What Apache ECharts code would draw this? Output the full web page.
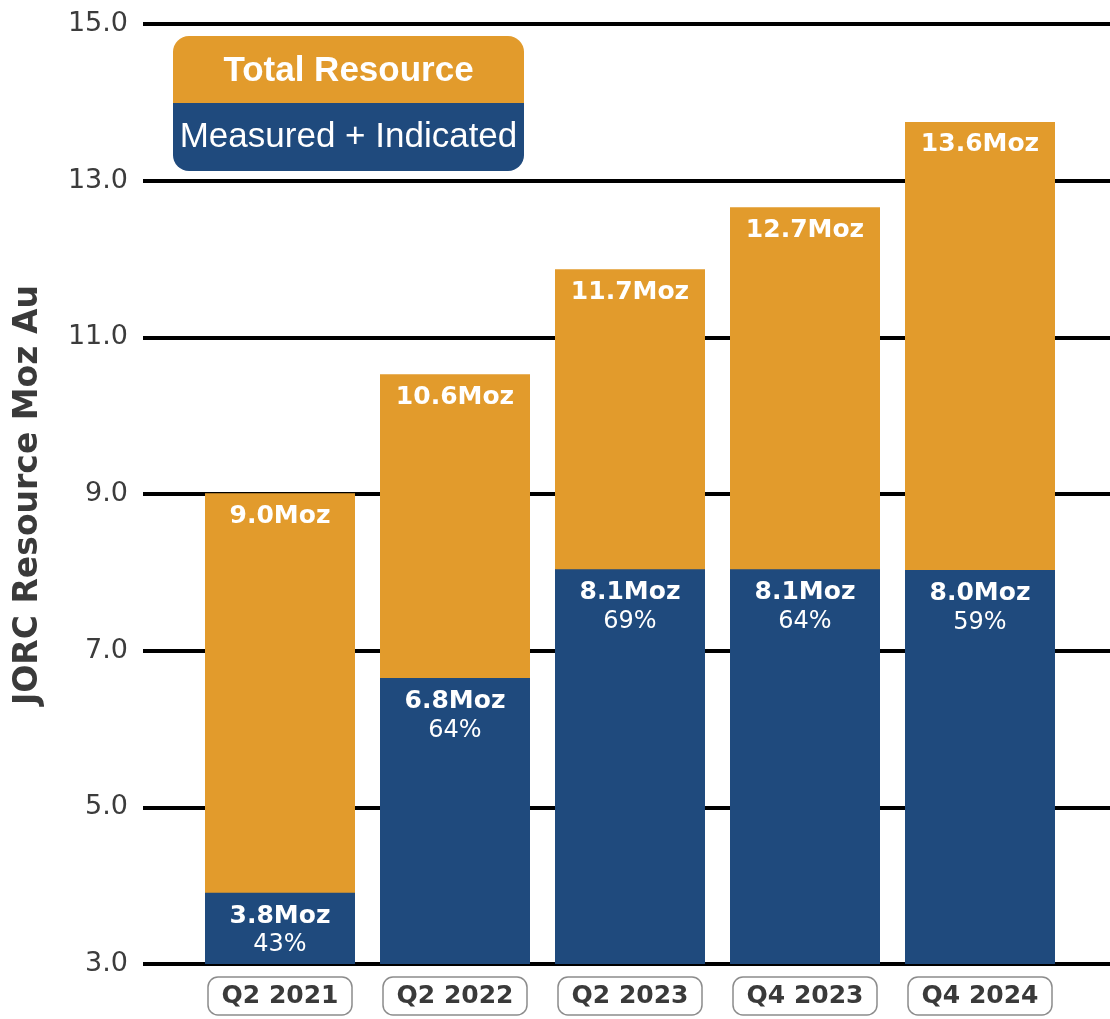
<!DOCTYPE html>
<html>
<head>
<meta charset="utf-8">
<script src="https://cdn.jsdelivr.net/npm/echarts@6/dist/echarts.min.js"></script>
<style>
  html, body { margin: 0; padding: 0; background: #fff; }
  #chart { width: 1110px; height: 1019px; }
</style>
</head>
<body>
<div id="chart"></div>
<script>
// quarters on the x axis
const quarters = ['Q2 2021', 'Q2 2022', 'Q2 2023', 'Q4 2023', 'Q4 2024']
// bar heights (Moz Au)
const totalResource = [9.01, 10.53, 11.87, 12.66, 13.75]
const measuredIndicated = [3.91, 6.65, 8.04, 8.04, 8.03]
// printed labels
const totalLabels = ['9.0Moz', '10.6Moz', '11.7Moz', '12.7Moz', '13.6Moz']
const miLabels = ['3.8Moz', '6.8Moz', '8.1Moz', '8.1Moz', '8.0Moz']
const miShare = ['43%', '64%', '69%', '64%', '59%']
// y axis
const yMin = 3, yMax = 15, yStep = 2

const ORANGE = '#E29B2C'
const BLUE = '#1F4A7D'
const LABEL_FONT = 'DejaVu Sans'

let myChart = echarts.init(document.getElementById('chart'))

let option = {
  animation: false,
  backgroundColor: '#fff',
  grid: [
    // wide grid only for the black gridlines
    { left: 143, right: 0, top: 24, bottom: 55 },
    // bars
    { left: 192.5, right: 42.5, top: 24, bottom: 55 }
  ],
  xAxis: [
    { gridIndex: 0, type: 'category', data: [''], show: false },
    {
      gridIndex: 1,
      type: 'category',
      data: quarters,
      axisLine: { show: false },
      axisTick: { show: false },
      axisLabel: {
        margin: 13,
        fontFamily: LABEL_FONT,
        fontWeight: 'bold',
        fontSize: 25,
        color: '#3a3a3a',
        width: 140,
        height: 36,
        lineHeight: 36,
        align: 'center',
        padding: [1, 2],
        borderColor: '#8c8c8c',
        borderWidth: 1.5,
        borderRadius: 10
      }
    }
  ],
  yAxis: [
    {
      gridIndex: 0,
      type: 'value',
      min: yMin,
      max: yMax,
      interval: yStep,
      axisLine: { show: false },
      axisTick: { show: false },
      axisLabel: {
        margin: 15,
        fontFamily: LABEL_FONT,
        fontSize: 27,
        color: '#3c3c3c',
        formatter: v => v.toFixed(1)
      },
      splitLine: { show: true, lineStyle: { color: '#000', width: 4 } }
    },
    {
      gridIndex: 1,
      type: 'value',
      min: yMin,
      max: yMax,
      interval: yStep,
      show: false,
      splitLine: { show: false }
    }
  ],
  graphic: [
    {
      type: 'text',
      rotation: Math.PI / 2,
      x: 28,
      y: 495,
      style: {
        text: 'JORC Resource Moz Au',
        fontFamily: LABEL_FONT,
        fontWeight: 'bold',
        fontSize: 33,
        fill: '#3a3a3a',
        align: 'center',
        verticalAlign: 'middle'
      }
    },
    {
      type: 'group',
      children: [
        {
          type: 'rect',
          shape: { x: 173, y: 36, width: 351, height: 68, r: [16, 16, 0, 0] },
          style: { fill: ORANGE }
        },
        {
          type: 'rect',
          shape: { x: 173, y: 103, width: 351, height: 68, r: [0, 0, 16, 16] },
          style: { fill: BLUE }
        },
        {
          type: 'text',
          x: 348.5,
          y: 71,
          style: {
            text: 'Total Resource',
            fontFamily: 'Liberation Sans',
            fontWeight: 'bold',
            fontSize: 35,
            fill: '#fff',
            align: 'center',
            verticalAlign: 'middle'
          }
        },
        {
          type: 'text',
          x: 348.5,
          y: 137,
          style: {
            text: 'Measured + Indicated',
            fontFamily: 'Liberation Sans',
            fontSize: 35,
            fill: '#fff',
            align: 'center',
            verticalAlign: 'middle'
          }
        }
      ]
    }
  ],
  series: [
    {
      name: 'Total Resource',
      type: 'bar',
      xAxisIndex: 1,
      yAxisIndex: 1,
      barWidth: 150,
      barGap: '-100%',
      itemStyle: { color: ORANGE },
      label: {
        show: true,
        position: 'insideTop',
        distance: 10,
        fontFamily: LABEL_FONT,
        fontWeight: 'bold',
        fontSize: 25,
        lineHeight: 26,
        color: '#fff',
        formatter: p => totalLabels[p.dataIndex]
      },
      data: totalResource
    },
    {
      name: 'Measured + Indicated',
      type: 'bar',
      xAxisIndex: 1,
      yAxisIndex: 1,
      barWidth: 150,
      barGap: '-100%',
      itemStyle: { color: BLUE },
      label: {
        show: true,
        position: 'insideTop',
        distance: 9,
        color: '#fff',
        formatter: p => '{a|' + miLabels[p.dataIndex] + '}\n{b|' + miShare[p.dataIndex] + '}',
        rich: {
          a: { fontFamily: LABEL_FONT, fontWeight: 'bold', fontSize: 25, lineHeight: 29, color: '#fff' },
          b: { fontFamily: LABEL_FONT, fontSize: 24, lineHeight: 29, color: '#fff' }
        }
      },
      data: measuredIndicated
    }
  ]
}

option && myChart.setOption(option)
</script>
</body>
</html>
